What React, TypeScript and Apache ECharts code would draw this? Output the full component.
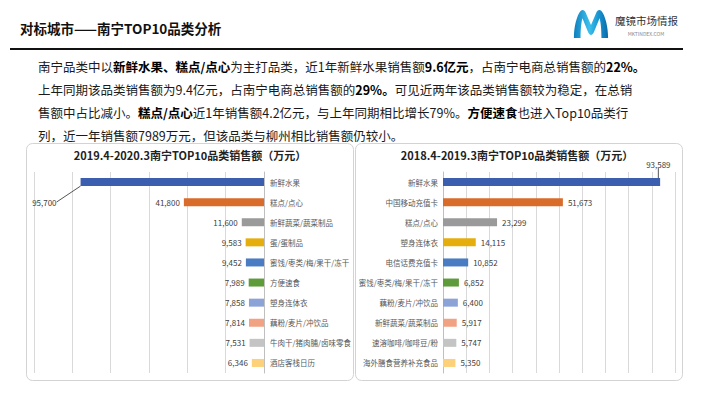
import React, { useEffect, useRef } from "react";
import * as echarts from "echarts";

const leftCategories = ["新鲜水果", "糕点/点心", "新鲜蔬菜/蔬菜制品", "蛋/蛋制品", "蜜饯/枣类/梅/果干/冻干", "方便速食", "塑身连体衣", "藕粉/麦片/冲饮品", "牛肉干/猪肉脯/卤味零食", "酒店客栈日历"];
const leftValues = [95700, 41800, 11600, 9583, 9452, 7989, 7858, 7814, 7531, 6346];
const rightCategories = ["新鲜水果", "中国移动充值卡", "糕点/点心", "塑身连体衣", "电信话费充值卡", "蜜饯/枣类/梅/果干/冻干", "藕粉/麦片/冲饮品", "新鲜蔬菜/蔬菜制品", "速溶咖啡/咖啡豆/粉", "海外膳食营养补充食品"];
const rightValues = [93589, 51673, 23299, 14115, 10852, 6852, 6400, 5917, 5747, 5350];
const barColors = ["#3B5FAE", "#D96B2B", "#9A9A9A", "#E5AE0C", "#4A7CC3", "#5E9B3A", "#8CA3D8", "#F0A283", "#C4C4C4", "#FDD17A"];

const leftTitle = "2019.4-2020.3南宁TOP10品类销售额（万元）";
const rightTitle = "2018.4-2019.3南宁TOP10品类销售额（万元）";
const pageTitle = "对标城市——南宁TOP10品类分析";

const paragraphLines: [string, boolean][][] = [
  [["南宁品类中以", false], ["新鲜水果、糕点/点心", true], ["为主打品类，近1年新鲜水果销售额", false], ["9.6亿元", true], ["，占南宁电商总销售额的", false], ["22%。", true]],
  [["上年同期该品类销售额为9.4亿元，占南宁电商总销售额的", false], ["29%。", true], ["可见近两年该品类销售额较为稳定，在总销", false]],
  [["售额中占比减小。", false], ["糕点/点心", true], ["近1年销售额4.2亿元，与上年同期相比增长79%。", false], ["方便速食", true], ["也进入Top10品类行", false]],
  [["列，近一年销售额7989万元，但该品类与柳州相比销售额仍较小。", false]],
];

const FONT = "'Noto Sans CJK SC', 'Noto Sans', sans-serif";
const logoPath =
  "M2 30 C2 18 5 6 9 1 C11 -1 13 0 14 2 L20 16 L26 2 C27 0 29 -1 31 1 C35 6 38 18 38 30 L31 30 C31 20 30 12 29 9 L23 24 C21 28 19 28 17 24 L11 9 C10 12 9 20 9 30 Z";

let registered = false;
function registerLogo() {
  if (registered) return;
  echarts.graphic.registerShape("logoM", echarts.graphic.extendPath(logoPath, {}) as any);
  registered = true;
}

const fmt = (v: number) => v.toLocaleString("en-US");

export default function App() {
  const ref = useRef<HTMLDivElement>(null);
  useEffect(() => {
    if (!ref.current) return;
    registerLogo();
    const chart = echarts.init(ref.current, undefined, { renderer: "svg" });

    const paraGraphics = paragraphLines.map((segs, i) => ({
      type: "text",
      x: 38,
      y: 66 + i * 23,
      style: {
        text: segs.map(([t, b]) => `{${b ? "b" : "n"}|${t}}`).join(""),
        verticalAlign: "middle",
        rich: {
          n: { fontSize: 12.5, fontFamily: FONT, fill: "#1a1a1a", fontWeight: "normal" },
          b: { fontSize: 12.5, fontFamily: FONT, fill: "#000", fontWeight: "bold" },
        },
      },
    }));

    const mkData = (vals: number[]) =>
      vals.map((v, i) => ({
        value: v,
        itemStyle: { color: barColors[i] },
        labelLine: { show: i === 0, lineStyle: { color: "#555", width: 1 } },
      }));

    const catLabel = { color: "#595959", fontSize: 7.5, fontFamily: FONT };
    const valLabel = { color: "#404040", fontSize: 8, fontFamily: FONT };

    chart.setOption({
      animation: false,
      backgroundColor: "#fff",
      graphic: [
        { type: "text", x: 20, y: 28, style: { text: pageTitle, fontSize: 13.5, fontWeight: "bold", fontFamily: FONT, fill: "#111", verticalAlign: "middle" } },
        { type: "line", shape: { x1: 10, y1: 49, x2: 683, y2: 49 }, style: { stroke: "#111", lineWidth: 2 } },
        {
          type: "logoM",
          x: 572,
          y: 10,
          scaleX: 0.95,
          scaleY: 0.93,
          style: {
            fill: new echarts.graphic.LinearGradient(0, 0, 1, 0, [
              { offset: 0, color: "#0d7fbf" },
              { offset: 0.45, color: "#3cc0ec" },
              { offset: 0.7, color: "#1a97d4" },
              { offset: 1, color: "#0b6aa8" },
            ]),
          },
        },
        { type: "text", x: 615, y: 20, style: { text: "魔镜市场情报", fontSize: 10.5, fontFamily: FONT, fill: "#333", verticalAlign: "middle" } },
        { type: "text", x: 646, y: 33, style: { text: "MKTINDEX.COM", fontSize: 5, fontFamily: FONT, fill: "#888", verticalAlign: "middle", align: "center" } },
        ...paraGraphics,
        { type: "rect", z: -1, shape: { x: 26.5, y: 143.5, width: 327, height: 237, r: 6 }, style: { fill: "rgba(0,0,0,0)", stroke: "#d3d3d3", lineWidth: 1 } },
        { type: "rect", z: -1, shape: { x: 355.5, y: 143.5, width: 327, height: 237, r: 6 }, style: { fill: "rgba(0,0,0,0)", stroke: "#d3d3d3", lineWidth: 1 } },
        { type: "text", x: 190, y: 155, style: { text: leftTitle, fontSize: 11, fontWeight: "bold", fontFamily: FONT, fill: "#222", align: "center", verticalAlign: "middle" } },
        { type: "text", x: 517, y: 155, style: { text: rightTitle, fontSize: 11, fontWeight: "bold", fontFamily: FONT, fill: "#222", align: "center", verticalAlign: "middle" } },
      ],
      grid: [
        { left: 34, top: 172, width: 230, height: 201 },
        { left: 443, top: 172, width: 232, height: 201 },
      ],
      xAxis: [
        {
          type: "value", gridIndex: 0, inverse: true, min: 0, max: 120000, interval: 20000,
          axisLabel: { show: false }, axisLine: { show: false }, axisTick: { show: false },
          splitLine: { show: true, lineStyle: { color: "#d9d9d9", width: 1 } },
        },
        {
          type: "value", gridIndex: 1, min: 0, max: 100000, interval: 10000,
          axisLabel: { show: false }, axisLine: { show: false }, axisTick: { show: false },
          splitLine: { show: true, lineStyle: { color: "#d9d9d9", width: 1 } },
        },
      ],
      yAxis: [
        {
          type: "category", gridIndex: 0, position: "right", inverse: true, data: leftCategories,
          axisLine: { show: true, lineStyle: { color: "#bfbfbf" } }, axisTick: { show: false },
          axisLabel: { ...catLabel, margin: 6 },
        },
        {
          type: "category", gridIndex: 1, position: "left", inverse: true, data: rightCategories,
          axisLine: { show: true, lineStyle: { color: "#bfbfbf" } }, axisTick: { show: false },
          axisLabel: { ...catLabel, margin: 5 },
        },
      ],
      series: [
        {
          type: "bar", xAxisIndex: 0, yAxisIndex: 0, barWidth: 8,
          data: mkData(leftValues),
          label: { show: true, position: "left", distance: 4, ...valLabel, formatter: (p: any) => fmt(p.value) },
          labelLine: { show: false, lineStyle: { color: "#555", width: 1 } },
          labelLayout: (p: any) => (p.dataIndex === 0 ? { dx: -20, dy: 20 } : {}),
        },
        {
          type: "bar", xAxisIndex: 1, yAxisIndex: 1, barWidth: 8,
          data: mkData(rightValues),
          label: { show: true, position: "right", distance: 5, ...valLabel, formatter: (p: any) => fmt(p.value) },
          labelLine: { show: false, lineStyle: { color: "#555", width: 1 } },
          labelLayout: (p: any) => (p.dataIndex === 0 ? { dx: -19, dy: -18 } : {}),
        },
      ],
    });
    return () => chart.dispose();
  }, []);
  return <div ref={ref} style={{ position: "fixed", left: 0, top: 0, width: 710, height: 399 }} />;
}
